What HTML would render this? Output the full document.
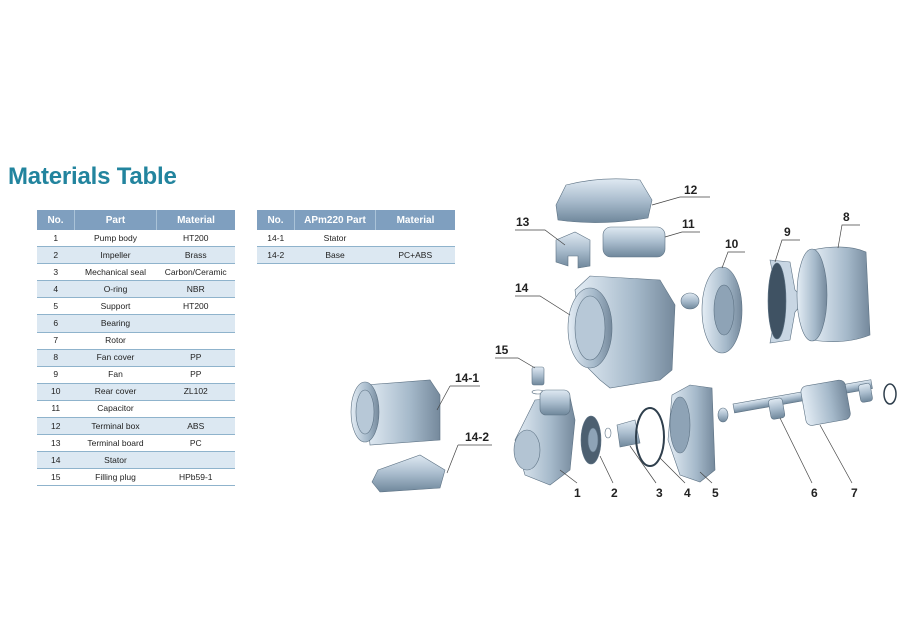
<!DOCTYPE html>
<html><head><meta charset="utf-8"><style>
body{margin:0;background:#fff;width:900px;height:637px;position:relative;overflow:hidden;font-family:"Liberation Sans",sans-serif}
h1{position:absolute;left:8px;top:163px;margin:0;font-size:24px;font-weight:bold;color:#22849e;letter-spacing:-0.2px}
table{position:absolute;border-collapse:collapse;font-size:8.5px;color:#222}
td,th{text-align:center;padding:0;height:16.1px;line-height:15px;border-bottom:1.5px solid #8fb3cc}
th{background:#7f9fbf;color:#fff;font-size:10px;height:20px;border-bottom:none;border-right:1px solid #aac3d8}
th:last-child{border-right:none}
tr.s td{background:#dce8f2}
svg{position:absolute;left:0;top:0}
</style></head><body>
<h1>Materials Table</h1>
<table style="left:37px;top:210px;width:198px">
<tr><th style="width:37px">No.</th><th style="width:81px">Part</th><th>Material</th></tr>
<tr><td>1</td><td>Pump body</td><td>HT200</td></tr>
<tr class="s"><td>2</td><td>Impeller</td><td>Brass</td></tr>
<tr><td>3</td><td>Mechanical seal</td><td>Carbon/Ceramic</td></tr>
<tr class="s"><td>4</td><td>O-ring</td><td>NBR</td></tr>
<tr><td>5</td><td>Support</td><td>HT200</td></tr>
<tr class="s"><td>6</td><td>Bearing</td><td></td></tr>
<tr><td>7</td><td>Rotor</td><td></td></tr>
<tr class="s"><td>8</td><td>Fan cover</td><td>PP</td></tr>
<tr><td>9</td><td>Fan</td><td>PP</td></tr>
<tr class="s"><td>10</td><td>Rear cover</td><td>ZL102</td></tr>
<tr><td>11</td><td>Capacitor</td><td></td></tr>
<tr class="s"><td>12</td><td>Terminal box</td><td>ABS</td></tr>
<tr><td>13</td><td>Terminal board</td><td>PC</td></tr>
<tr class="s"><td>14</td><td>Stator</td><td></td></tr>
<tr><td>15</td><td>Filling plug</td><td>HPb59-1</td></tr>
</table>
<table style="left:257px;top:210px;width:198px">
<tr><th style="width:37px">No.</th><th style="width:80px">APm220 Part</th><th>Material</th></tr>
<tr><td>14-1</td><td>Stator</td><td></td></tr>
<tr class="s"><td>14-2</td><td>Base</td><td>PC+ABS</td></tr>
</table>
<svg width="900" height="637" viewBox="0 0 900 637">
<defs>
<linearGradient id="g" x1="0" y1="0" x2="0" y2="1"><stop offset="0" stop-color="#dfe9f2"/><stop offset="0.5" stop-color="#a9bccd"/><stop offset="1" stop-color="#6f879b"/></linearGradient>
<linearGradient id="h" x1="0" y1="0" x2="1" y2="0"><stop offset="0" stop-color="#e4edf5"/><stop offset="0.6" stop-color="#a5b9ca"/><stop offset="1" stop-color="#75899c"/></linearGradient>
</defs>
<g stroke="#5d7284" stroke-width="0.6">
<path d="M556 205 L566 185 Q600 176 640 180 L652 200 L648 218 Q600 226 558 220 Z" fill="url(#g)"/>
<path d="M556 240 L575 232 L590 240 L590 266 L578 268 L578 256 L568 256 L568 266 L556 262 Z" fill="url(#g)"/>
<rect x="603" y="227" width="62" height="30" rx="8" fill="url(#g)"/>
<path d="M575 290 L590 276 L660 280 L675 305 L672 370 L660 380 L610 388 L600 380 L585 365 Z" fill="url(#h)"/>
<ellipse cx="590" cy="328" rx="22" ry="40" fill="url(#h)"/>
<ellipse cx="590" cy="328" rx="15" ry="32" fill="#b7c8d7"/>
<ellipse cx="690" cy="301" rx="9" ry="8" fill="url(#g)"/>
<ellipse cx="722" cy="310" rx="20" ry="43" fill="url(#h)"/>
<ellipse cx="724" cy="310" rx="10" ry="25" fill="#8ea3b6"/>
<path d="M770 260 L790 262 L795 290 L805 300 L795 312 L790 340 L770 343 L778 300 Z" fill="#c8d6e3"/>
<ellipse cx="777" cy="301" rx="9" ry="38" fill="#3f5263"/>
<path d="M812 250 Q845 243 866 252 L870 335 Q845 345 812 340 Z" fill="url(#h)"/>
<ellipse cx="812" cy="295" rx="15" ry="46" fill="url(#h)"/>
<rect x="532" y="367" width="12" height="18" rx="2" fill="url(#g)"/>
<ellipse cx="538" cy="392" rx="6" ry="2" fill="none"/>
<path d="M535 400 L570 397 L575 420 L570 470 L550 485 L525 475 L515 440 Z" fill="url(#h)"/>
<ellipse cx="527" cy="450" rx="13" ry="20" fill="#b3c4d3"/>
<rect x="540" y="390" width="30" height="25" rx="6" fill="url(#g)"/>
<ellipse cx="591" cy="440" rx="10" ry="24" fill="#4c5f70"/>
<ellipse cx="593" cy="440" rx="5" ry="12" fill="#8ea3b6"/>
<ellipse cx="608" cy="433" rx="3" ry="5" fill="none"/>
<path d="M617 425 L635 420 L640 443 L620 447 Z" fill="url(#g)"/>
<ellipse cx="650" cy="437" rx="14" ry="29" fill="none" stroke="#2f3f4d" stroke-width="2"/>
<path d="M672 395 L690 385 L712 388 L715 470 L700 482 L680 475 L668 440 Z" fill="url(#h)"/>
<ellipse cx="680" cy="425" rx="10" ry="28" fill="#8ea3b6"/>
<ellipse cx="723" cy="415" rx="5" ry="7" fill="url(#g)"/>
<rect x="733" y="404" width="140" height="9" fill="url(#g)" transform="rotate(-10 733 404)"/>
<rect x="768" y="400" width="14" height="20" rx="3" fill="url(#g)" transform="rotate(-10 768 400)"/>
<rect x="800" y="387" width="45" height="40" rx="6" fill="url(#h)" transform="rotate(-10 800 387)"/>
<rect x="858" y="385" width="12" height="18" rx="3" fill="url(#g)" transform="rotate(-10 858 385)"/>
<ellipse cx="890" cy="394" rx="6" ry="10" fill="none" stroke="#2f3f4d" stroke-width="1.5"/>
<path d="M365 385 L430 380 L440 395 L440 440 L370 445 Z" fill="url(#h)"/>
<ellipse cx="365" cy="412" rx="14" ry="30" fill="url(#h)"/>
<ellipse cx="365" cy="412" rx="9" ry="22" fill="#b7c8d7"/>
<path d="M378 470 L420 455 L445 470 L440 488 L380 492 L372 482 Z" fill="url(#g)"/>
</g>
<g stroke="#444" stroke-width="0.7" fill="none">
<path d="M652 205 L680 197 L710 197"/>
<path d="M515 230 L545 230 L565 245"/>
<path d="M665 237 L682 232 L700 232"/>
<path d="M722 268 L728 252 L745 252"/>
<path d="M775 262 L782 240 L800 240"/>
<path d="M838 248 L842 225 L860 225"/>
<path d="M515 296 L540 296 L570 315"/>
<path d="M495 358 L518 358 L535 368"/>
<path d="M450 386 L480 386"/><path d="M450 386 L437 410"/>
<path d="M458 445 L492 445"/><path d="M458 445 L447 473"/>
<path d="M560 470 L577 483"/><path d="M600 456 L613 483"/><path d="M630 446 L656 483"/>
<path d="M660 458 L685 483"/><path d="M700 472 L712 483"/><path d="M780 418 L812 483"/><path d="M820 425 L852 483"/>
</g>
<g font-family="Liberation Sans,sans-serif" font-size="12" fill="#222" font-weight="bold">
<text x="684" y="194">12</text><text x="516" y="226">13</text><text x="682" y="228">11</text>
<text x="725" y="248">10</text><text x="784" y="236">9</text><text x="843" y="221">8</text>
<text x="515" y="292">14</text><text x="495" y="354">15</text>
<text x="455" y="382">14-1</text><text x="465" y="441">14-2</text>
<text x="574" y="497">1</text><text x="611" y="497">2</text><text x="656" y="497">3</text>
<text x="684" y="497">4</text><text x="712" y="497">5</text><text x="811" y="497">6</text><text x="851" y="497">7</text>
</g>
</svg>
</body></html>
